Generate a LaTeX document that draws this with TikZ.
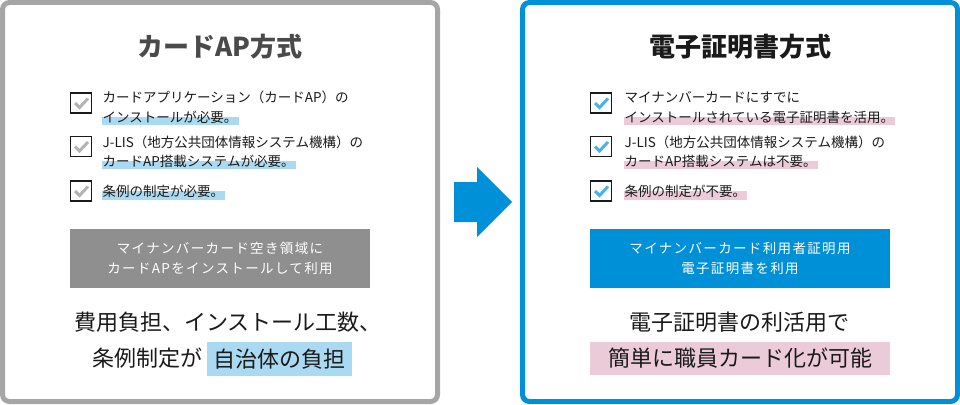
\documentclass[tikz,border=0pt]{standalone}
\usepackage{fontspec}
\setmainfont{Noto Sans CJK JP}
\usetikzlibrary{calc,backgrounds}
\definecolor{graybd}{HTML}{A6A6A6}
\definecolor{bluebd}{HTML}{0090D8}
\definecolor{graybox}{HTML}{8F8F8F}
\definecolor{hlblue}{HTML}{A9DAF2}
\definecolor{hlpink}{HTML}{ECCBD8}
\definecolor{ckgray}{HTML}{B4B4B4}
\definecolor{ckblue}{HTML}{4CB2E6}
\definecolor{titlegray}{HTML}{4A4A4A}
\definecolor{txtblack}{HTML}{1A1A1A}
\newcommand\hlband[2]{\fill[#1] ($(#2.west)+(-1,-0.5)$) rectangle ($(#2.east)+(1,8)$);}
\begin{document}
\begin{tikzpicture}[x=1pt,y=-1pt,
  itemtxt/.style={anchor=west, inner sep=0pt, font=\fontsize{13.5}{16}\selectfont, text height=11.9pt, text depth=1.6pt, text=txtblack},
  boxtxt/.style={inner sep=0pt, font=\fontsize{13.5}{16}\selectfont\addfontfeature{LetterSpace=10}, text height=11.9pt, text depth=1.6pt, text=white},
  bigtxt/.style={inner sep=0pt, font=\fontsize{22}{26}\selectfont, text height=19.4pt, text depth=2.6pt, text=txtblack},
  titletxt/.style={inner sep=0pt, font=\fontsize{26}{30}\selectfont\bfseries, text height=22.9pt, text depth=3.1pt},
  cbox/.style={draw=txtblack, line width=1.2pt, fill=white, minimum width=21pt, minimum height=20pt, inner sep=0pt},
  checkmk/.style={line width=3pt, line cap=butt, line join=miter},
  panel/.style={line width=5pt, rounded corners=7pt},
  fillbox/.style={minimum width=300pt, minimum height=59pt, inner sep=0pt}]
\useasboundingbox (0,0) rectangle (960,404);

% panels
\draw[panel, draw=graybd] (2.5,2.5) rectangle (437.5,401.5);
\draw[panel, draw=bluebd] (522.5,2.5) rectangle (957.5,401.5);

% arrow
\fill[bluebd] (454,182) -- (477,182) -- (477,167) -- (512,202) -- (477,237) -- (477,222) -- (454,222) -- cycle;

% titles
\node[titletxt, text=titlegray] (tl) at (220,47) {カードAP方式};
\node[titletxt, text=txtblack] (tr) at (740,47) {電子証明書方式};

% left items
\node[cbox] (lc1) at (81,103) {};
\node[cbox] (lc2) at (81,146.5) {};
\node[cbox] (lc3) at (81,191) {};
\node[itemtxt] (la1) at (102.5,97.5) {カードアプリケーション（カードAP）の};
\node[itemtxt] (la2) at (102.5,117) {インストールが必要。};
\node[itemtxt] (lb1) at (102.5,142.5) {J-LIS（地方公共団体情報システム機構）の};
\node[itemtxt] (lb2) at (102.5,161) {カードAP搭載システムが必要。};
\node[itemtxt] (lc) at (102.5,191.5) {条例の制定が必要。};

% right items
\node[cbox] (rc1) at (601,103) {};
\node[cbox] (rc2) at (601,146.5) {};
\node[cbox] (rc3) at (601,191) {};
\node[itemtxt] (ra1) at (624.5,97.5) {マイナンバーカードにすでに};
\node[itemtxt] (ra2) at (624.5,117) {インストールされている電子証明書を活用。};
\node[itemtxt] (rb1) at (624.5,142.5) {J-LIS（地方公共団体情報システム機構）の};
\node[itemtxt] (rb2) at (624.5,161) {カードAP搭載システムは不要。};
\node[itemtxt] (rc) at (624.5,191.5) {条例の制定が不要。};

% checkmarks
\foreach \c/\col in {lc1/ckgray,lc2/ckgray,lc3/ckgray,rc1/ckblue,rc2/ckblue,rc3/ckblue}{
  \draw[checkmk, draw=\col] ($(\c.center)+(-6,0)$) -- ($(\c.center)+(-1.5,4.5)$) -- ($(\c.center)+(7,-4.5)$);
}

% filled boxes
\node[fillbox, fill=graybox] (gbox) at (220,258.5) {};
\node[boxtxt] (g1) at (220,248.3) {マイナンバーカード空き領域に};
\node[boxtxt] (g2) at (220,268.3) {カードAPをインストールして利用};
\node[fillbox, fill=bluebd] (bbox) at (740,258.5) {};
\node[boxtxt] (b1) at (740,248.3) {マイナンバーカード利用者証明用};
\node[boxtxt] (b2) at (740,268.3) {電子証明書を利用};

% conclusions
\node[bigtxt, anchor=west] (l1) at (74,322.5) {費用負担、インストール工数、};
\node[bigtxt, fill=hlblue, inner xsep=6.5pt, inner ysep=6pt] (lh) at (279.2,358.7) {自治体の負担};
\node[bigtxt, anchor=east] (l2) at ($(lh.west)+(-4,-0.7)$) {条例制定が};
\node[bigtxt] (r1) at (739,321.7) {電子証明書の利活用で};
\node[bigtxt, fill=hlpink, minimum width=300pt, minimum height=33.5pt] (rh) at (740,358.5) {簡単に職員カード化が可能};

% highlight bands
\begin{scope}[on background layer]
  \fill[white] (0,0) rectangle (960,404);
  \hlband{hlblue}{la2}
  \hlband{hlblue}{lb2}
  \hlband{hlblue}{lc}
  \hlband{hlpink}{ra2}
  \hlband{hlpink}{rb2}
  \hlband{hlpink}{rc}
\end{scope}
\end{tikzpicture}
\end{document}
